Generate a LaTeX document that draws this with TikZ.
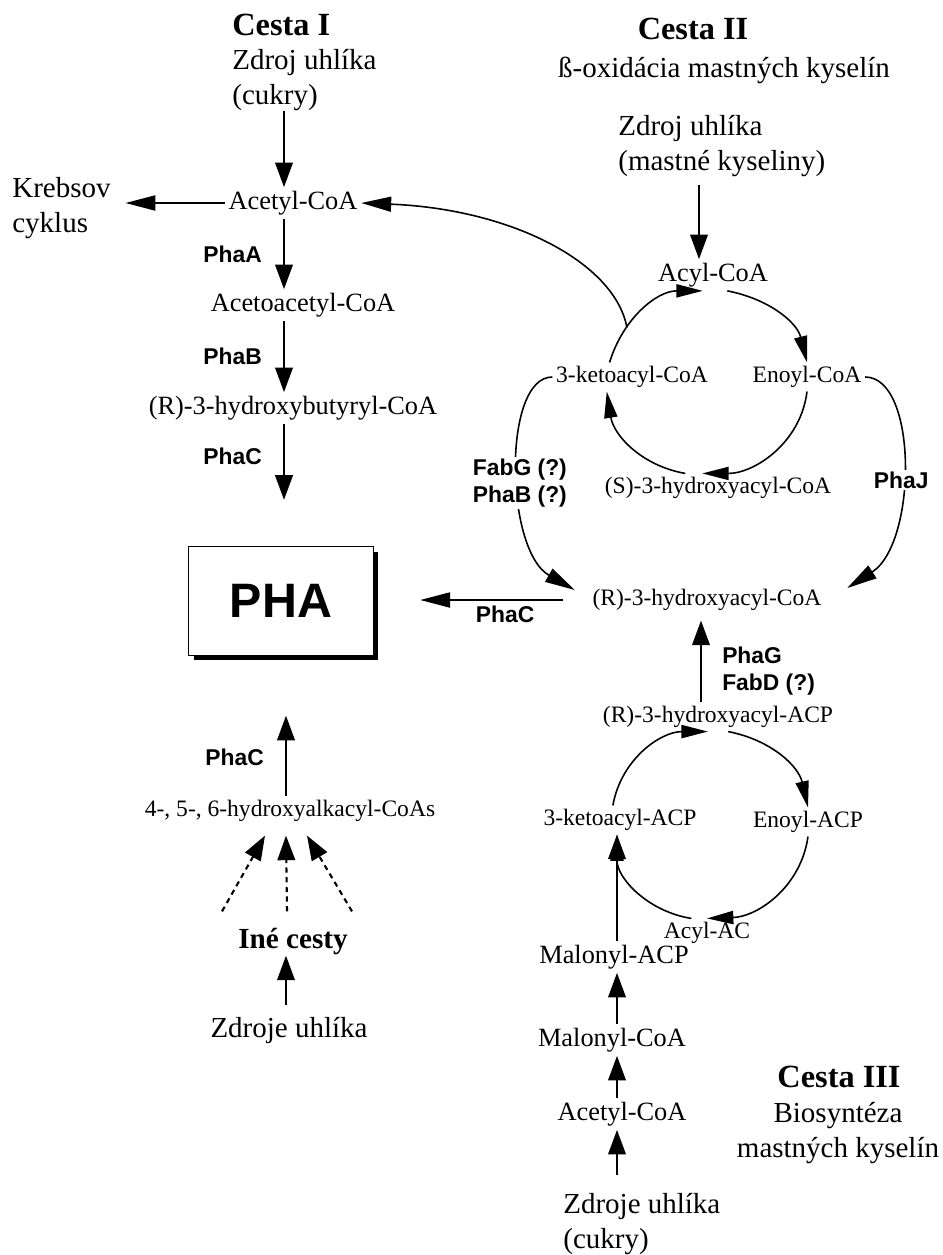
\documentclass[tikz,border=0pt]{standalone}
\usepackage{fontspec}
\setmainfont{Liberation Serif}
\setsansfont{Liberation Sans}
\usetikzlibrary{positioning,arrows.meta,calc,shadows}

\begin{document}
\begin{tikzpicture}[
    x=0.02cm, y=0.02cm,
    metab/.style={inner sep=2pt, font=\fontsize{15}{18}\selectfont},
    cyc/.style={inner sep=2pt, font=\fontsize{13.4}{16}\selectfont},
    desc/.style={inner sep=0pt, align=left, font=\fontsize{16.5}{20}\selectfont},
    heading/.style={inner sep=0pt, font=\fontsize{18.4}{22}\selectfont\bfseries},
    enz/.style={inner sep=1pt, align=left, font=\fontsize{13}{15.5}\selectfont\sffamily\bfseries},
    product/.style={rectangle, draw, fill=white, line width=0.8pt, minimum width=3.7cm, minimum height=2.18cm,
      font=\fontsize{27.5}{32}\selectfont\sffamily\bfseries,
      drop shadow={shadow xshift=0.1cm, shadow yshift=-0.1cm, fill=black, opacity=1}},
    relation/.style={-{Triangle[length=14pt, width=10pt]}, line width=1.2pt},
    side/.style={-{Triangle[length=17pt, width=8.5pt]}, line width=1.2pt},
    ringarc/.style={-{Triangle[length=15pt, width=7.5pt]}, line width=0.9pt},
    otherway/.style={relation, dash pattern=on 3pt off 2.5pt}
  ]

    \useasboundingbox (0,0) rectangle (943,-1255);

    \coordinate (colI) at (284,0);
    \coordinate (colL) at (286,0);
    \coordinate (colII) at (699,0);
    \coordinate (colR) at (701,0);
    \coordinate (colIII) at (617,0);

    \node[heading, anchor=west] (cestaI) at (232,-25) {Cesta I};
    \node[desc, anchor=north west] (zdrojI) at (232,-49) {Zdroj uhlíka\\(cukry)};
    \node[metab] (acetyl) at (293,-203) {Acetyl-CoA};
    \node[desc, anchor=north west] (krebs) at (12,-177) {Krebsov\\cyklus};
    \node[metab] (acetoacetyl) at (303,-305) {Acetoacetyl-CoA};
    \node[metab] (hbutyryl) at (293,-408) {(R)-3-hydroxybutyryl-CoA};
    \node[product] (pha) at (281,-601) {PHA};
    \node[cyc] (halk) at (290,-811) {4-, 5-, 6-hydroxyalkacyl-CoAs};
    \node[heading, font=\fontsize{16.6}{20}\selectfont\bfseries] (ine) at (293,-942) {Iné cesty};
    \node[desc] (zdrojL) at (289,-1030) {Zdroje uhlíka};

    \node[heading] (cestaII) at (693,-29) {Cesta II};
    \node[desc] (betaox) at (724,-70) {ß-oxidácia mastných kyselín};
    \node[desc, anchor=north west] (zdrojII) at (618,-115) {Zdroj uhlíka\\(mastné kyseliny)};
    \node[metab] (acylCoA) at (713,-275) {Acyl-CoA};
    \node[cyc] (ketoCoA) at (632,-377) {3-ketoacyl-CoA};
    \node[cyc] (enoylCoA) at (807,-377) {Enoyl-CoA};
    \node[cyc] (shydroxy) at (718,-488) {(S)-3-hydroxyacyl-CoA};
    \node[cyc] (rhydroxy) at (707,-600) {(R)-3-hydroxyacyl-CoA};

    \node[cyc] (rACP) at (718,-717) {(R)-3-hydroxyacyl-ACP};
    \node[cyc] (ketoACP) at (620,-820) {3-ketoacyl-ACP};
    \node[cyc] (enoylACP) at (808,-822) {Enoyl-ACP};
    \node[cyc] (acylACP) at (707,-933) {Acyl-AC};
    \node[metab] (malACP) at (614,-957) {Malonyl-ACP};
    \node[metab] (malCoA) at (612,-1040) {Malonyl-CoA};
    \node[metab] (acetylIII) at (622,-1114) {Acetyl-CoA};
    \node[desc, anchor=north west] (zdrojIII) at (563,-1193) {Zdroje uhlíka\\(cukry)};
    \node[heading] (cestaIII) at (839,-1077) {Cesta III};
    \node[desc, align=center] (biosyn) at (838,-1133) {Biosyntéza\\mastných kyselín};

    \draw[relation] (zdrojI.south -| colI) -- (acetyl.north -| colI);
    \draw[side, shorten >=0.29cm] (acetyl.west) -- (acetyl.west -| krebs.east);
    \draw[relation] (acetyl.south -| colI) -- node[enz, left=11pt]{PhaA} (acetoacetyl.north -| colI);
    \draw[relation] (acetoacetyl.south -| colI) -- node[enz, left=11pt]{PhaB} (hbutyryl.north -| colI);
    \draw[relation, shorten >=0.92cm] (hbutyryl.south -| colI) -- node[enz, left=11pt, pos=.27]{PhaC} (pha.north -| colI);

    \draw[relation, shorten >=1.19cm] (halk.north -| colL) -- node[enz, left=11pt, pos=.28]{PhaC} (pha.south -| colL);
    \foreach \a/\b in {-71/-25, -6/-4, 59/17}
      \draw[otherway] ($(ine.north)+(\a,17)$) -- ($(halk.south)+(\b,-10)$);
    \draw[relation, shorten <=0.24cm] (zdrojL.north -| colL) -- (ine.south -| colL);

    \draw[relation, shorten <=0.16cm] (zdrojII.south -| colII) -- (acylCoA.north -| colII);
    \draw[ringarc] (ketoCoA.147) to[out=73, in=180] coordinate[pos=.3] (ringjoin) (acylCoA.237);
    \draw[ringarc] (acylCoA.312) to[out=-11, in=104] (enoylCoA.north);
    \draw[ringarc] (enoylCoA.south) to[out=-97, in=0] (shydroxy.137);
    \draw[ringarc] (shydroxy.156) to[out=170, in=-81] (ketoCoA.210);
    \draw[side, line width=0.9pt] (ringjoin) .. controls +(-12,65) and +(150,-6) .. (acetyl.east);

    \draw[side, line width=0.9pt] (ketoCoA.west) .. controls +(-50,0) and +(-70,40) .. ($(rhydroxy.west)+(-14,10)$)
      node[enz, fill=white, pos=.55]{FabG (?)\\PhaB (?)};
    \draw[side, line width=0.9pt] (enoylCoA.east) .. controls +(53,0) and +(70,45) .. ($(rhydroxy.east)+(22,12)$)
      node[enz, fill=white, pos=.55]{PhaJ};
    \draw[side, shorten <=0.51cm, shorten >=0.92cm] (rhydroxy.west) -- node[enz, below=2pt, pos=.39]{PhaC} (rhydroxy.west -| pha.east);

    \draw[relation, shorten >=0.12cm] (rACP.north -| colR) -- node[enz, right=10.5pt, pos=.36]{PhaG\\FabD (?)} (rhydroxy.south -| colR);
    \draw[ringarc] (ketoACP.116) to[out=80, in=180] (rACP.235);
    \draw[ringarc] (rACP.305) to[out=-11, in=103] (enoylACP.north);
    \draw[ringarc] (enoylACP.south) to[out=-98, in=2] (acylACP.north);
    \draw[ringarc] (acylACP.137) to[out=171, in=-90] (ketoACP.south -| colIII);
    \draw[relation] (malACP.north -| colIII) -- (ketoACP.south -| colIII);
    \draw[relation] (malCoA.north -| colIII) -- (malACP.south -| colIII);
    \draw[relation] (acetylIII.north -| colIII) -- (malCoA.south -| colIII);
    \draw[relation, shorten <=0.36cm] (zdrojIII.north -| colIII) -- (acetylIII.south -| colIII);
  \end{tikzpicture}
\end{document}
